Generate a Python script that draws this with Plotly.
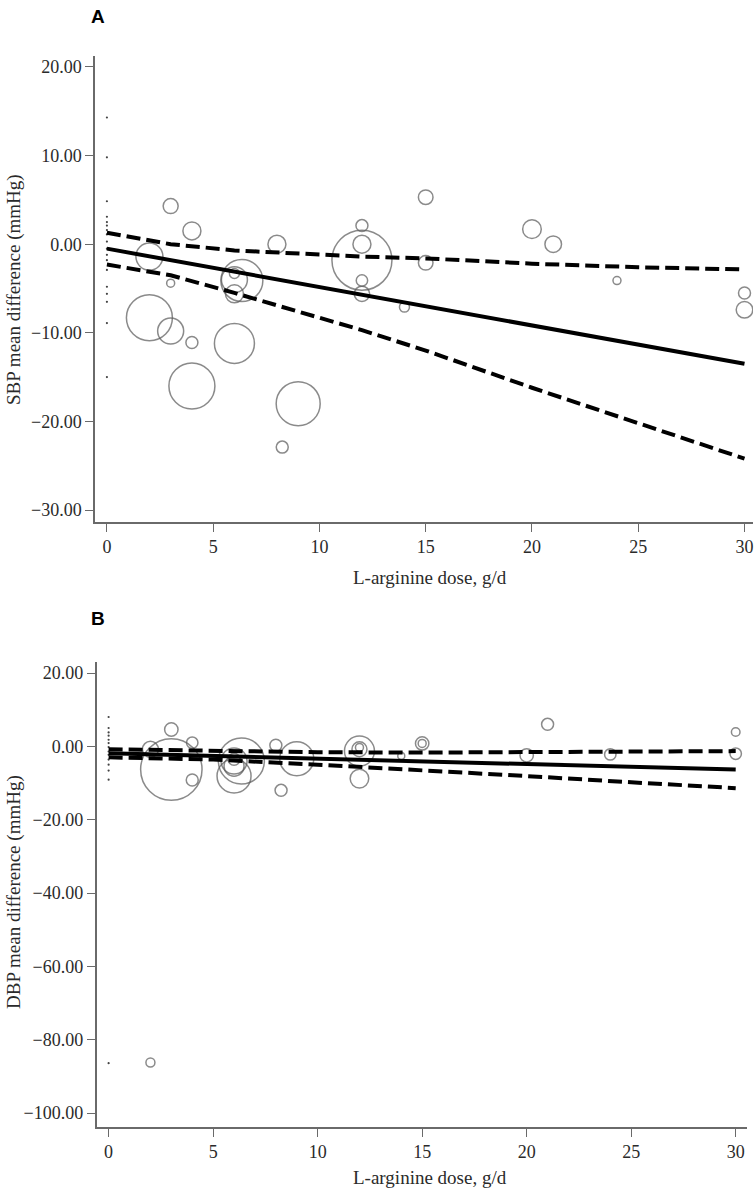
import plotly.graph_objects as go

# ---------------- Panel A: SBP ----------------
dose_a = [3, 4, 2, 3, 2, 3, 4, 4, 6, 6.35, 6, 6, 6, 8, 9, 8.25, 12, 12, 12, 12, 12, 15, 15, 14, 20, 21, 24, 30, 30]
sbp_a = [4.3, 1.5, -1.4, -4.4, -8.3, -9.8, -11.1, -16.0, -11.2, -4.1, -4.0, -5.6, -3.3, 0.0, -18.0, -22.9,
         -1.8, 0.0, 2.1, -4.1, -5.6, 5.3, -2.1, -7.1, 1.7, 0.0, -4.1, -5.5, -7.4]
wt_a = [7.5, 9, 13.5, 4, 23, 13, 6, 23, 20, 21, 13, 9, 5, 9, 22, 6,
        30, 9, 6, 5.7, 7.7, 7.3, 7.3, 5, 9.3, 8.3, 4, 6, 8.3]
sbp_zero = [14.3, 9.8, 4.85, 3.1, 2.5, 2.1, 1.6, 1.1, 0.3, -0.5, -1.2, -1.8, -2.9, -4.8, -5.6, -6.5, -8.9, -15.0]

fit_x_a = [0, 30]
fit_a = [-0.5, -13.5]
ci_x_a = [0, 3, 6, 9, 12, 15, 20, 25, 30]
ci_up_a = [1.3, 0.0, -0.7, -1.05, -1.4, -1.6, -2.2, -2.6, -2.85]
ci_lo_a = [-2.3, -3.5, -5.5, -7.6, -9.7, -12.0, -16.2, -20.2, -24.2]

# ---------------- Panel B: DBP ----------------
dose_b = [3, 3, 4, 4, 2, 6.35, 6, 6, 6, 6, 8, 8.25, 9, 12, 12, 12, 12, 14, 15, 15, 21, 20, 24, 30, 30, 2]
dbp_b = [-6.3, 4.6, 1.0, -9.2, -0.8, -4.0, -8.1, -4.0, -5.4, -3.5, 0.3, -12.0, -3.4, -1.3, -0.8, -0.3,
         -8.8, -2.6, 0.8, 0.8, 6.0, -2.45, -2.2, 3.9, -2.0, -86.2]
wt_b = [30.7, 6.7, 5.7, 6, 8, 23, 17, 13, 10, 6, 6, 6, 17, 15, 7.5, 4,
        9.3, 3.5, 6.7, 4, 6, 6.7, 5.7, 4.3, 5.7, 4.5]
dbp_zero = [8.0, 5.0, 3.8, 2.9, 1.8, 0.9, -0.2, -1.4, -2.3, -3.6, -5.0, -6.6, -9.1, -86.4]

fit_x_b = [0, 30]
fit_b = [-1.9, -6.3]
ci_x_b = [0, 5, 10, 15, 20, 25, 30]
ci_up_b = [-0.8, -1.3, -1.6, -1.7, -1.6, -1.5, -1.3]
ci_lo_b = [-3.0, -3.6, -5.0, -6.5, -8.1, -9.8, -11.4]

x_ticks = [0, 5, 10, 15, 20, 25, 30]
y_ticks_a = [-30, -20, -10, 0, 10, 20]
y_ticks_b = [-100, -80, -60, -40, -20, 0, 20]

W, H = 756, 1194
CIRC = "#5a5a5a"
AX = "#6a6a6a"
TXT = "#2a2a2a"
SERIF = "Liberation Serif, Times New Roman, serif"


def px(x):
    return x / W


def py(y):
    return 1 - y / H


fig = go.Figure()


def add_panel(xa, ya, dose, val, wt, zero_vals, fx, fy, cx, cu, cl):
    fig.add_trace(go.Scatter(x=[0] * len(zero_vals), y=zero_vals, mode="markers", xaxis=xa, yaxis=ya,
                             marker=dict(size=2.2, color="#444"), showlegend=False, hoverinfo="skip"))
    fig.add_trace(go.Scatter(x=dose, y=val, mode="markers", xaxis=xa, yaxis=ya,
                             marker=dict(size=[2 * w for w in wt], sizemode="diameter",
                                         color="rgba(0,0,0,0)", line=dict(color=CIRC, width=1.5)),
                             showlegend=False))
    for yy in (cu, cl):
        fig.add_trace(go.Scatter(x=cx, y=yy, mode="lines", xaxis=xa, yaxis=ya,
                                 line=dict(color="black", width=4, dash="14px,6px"), showlegend=False))
    fig.add_trace(go.Scatter(x=fx, y=fy, mode="lines", xaxis=xa, yaxis=ya,
                             line=dict(color="black", width=4), showlegend=False))


add_panel("x", "y", dose_a, sbp_a, wt_a, sbp_zero, fit_x_a, fit_a, ci_x_a, ci_up_a, ci_lo_a)
add_panel("x2", "y2", dose_b, dbp_b, wt_b, dbp_zero, fit_x_b, fit_b, ci_x_b, ci_up_b, ci_lo_b)

axis_common = dict(showline=True, linecolor=AX, linewidth=1.5, ticks="outside", ticklen=8,
                   tickcolor=AX, tickwidth=1.3, showgrid=False, zeroline=False, mirror=False,
                   tickfont=dict(family=SERIF, size=18, color=TXT))


def ann(text, x, y, font, angle=0):
    return dict(text=text, x=px(x), y=py(y), xref="paper", yref="paper", showarrow=False,
                xanchor="center", yanchor="middle", textangle=angle, font=font)


serif_font = dict(family=SERIF, size=19, color=TXT)
bold_font = dict(family="Liberation Sans, Arial, sans-serif", size=19, color="black")

fig.update_layout(
    width=W, height=H, margin=dict(l=0, r=0, t=0, b=0),
    paper_bgcolor="white", plot_bgcolor="white",
    xaxis=dict(domain=[px(95), px(753)], range=[-0.56, 30.4], tickvals=x_ticks, anchor="y", **axis_common),
    yaxis=dict(domain=[py(522), py(56)], range=[-31.35, 21.24], tickvals=y_ticks_a,
               tickformat=".2f", anchor="x", **axis_common),
    xaxis2=dict(domain=[px(96.5), px(747)], range=[-0.58, 30.54], tickvals=x_ticks, anchor="y2", **axis_common),
    yaxis2=dict(domain=[py(1127), py(662)], range=[-103.8, 23], tickvals=y_ticks_b,
                tickformat=".2f", anchor="x2", **axis_common),
    annotations=[
        ann("<b>A</b>", 98, 16, bold_font),
        ann("<b>B</b>", 98, 618, bold_font),
        ann("L-arginine dose, g/d", 430, 577, serif_font),
        ann("L-arginine dose, g/d", 430, 1177, serif_font),
        ann("SBP mean difference (mmHg)", 14, 290, serif_font, -90),
        ann("DBP mean difference (mmHg)", 14, 892, serif_font, -90),
    ],
)

fig.write_html("out.html", config={"displayModeBar": False},
               post_script="document.body.style.margin='0';document.body.style.overflow='hidden';")
